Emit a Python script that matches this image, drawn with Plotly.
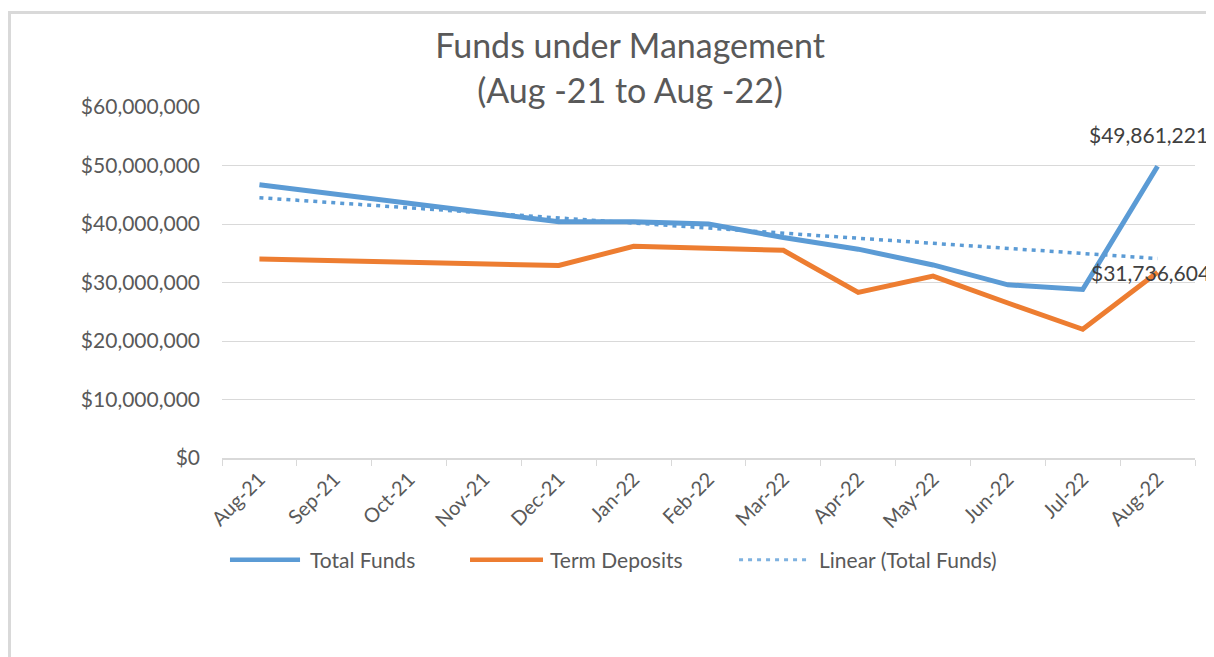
import plotly.graph_objects as go

months = ["Aug-21", "Sep-21", "Oct-21", "Nov-21", "Dec-21", "Jan-22", "Feb-22",
          "Mar-22", "Apr-22", "May-22", "Jun-22", "Jul-22", "Aug-22"]
total_funds = [46700000, None, None, None, 40400000, 40400000, 40000000,
               37700000, 35700000, 33000000, 29600000, 28800000, 49861221]
term_deposits = [34000000, None, None, None, 32900000, 36200000, 35900000,
                 35500000, 28300000, 31100000, 26500000, 22000000, 31736604]
trend_months = ["Aug-21", "Aug-22"]
trend_values = [44500000, 34100000]
y_ticks = [0, 10000000, 20000000, 30000000, 40000000, 50000000, 60000000]
y_tick_text = ["${:,}".format(v) for v in y_ticks]
series_names = ["Total Funds", "Term Deposits", "Linear (Total Funds)"]

BLUE = "#5B9BD5"
ORANGE = "#ED7D31"
TXT = "#595959"
FONT = "Lato, Liberation Sans, sans-serif"
DOT = "4px,5px"

fig = go.Figure()
fig.add_trace(go.Scatter(x=months, y=total_funds, name=series_names[0], mode="lines",
                         connectgaps=True, line=dict(color=BLUE, width=5)))
fig.add_trace(go.Scatter(x=months, y=term_deposits, name=series_names[1], mode="lines",
                         connectgaps=True, line=dict(color=ORANGE, width=5)))
fig.add_trace(go.Scatter(x=trend_months, y=trend_values, name=series_names[2],
                         mode="lines", line=dict(color=BLUE, width=3.5, dash=DOT)))

fig.add_annotation(x=months[-1], y=total_funds[-1], text="${:,.0f}".format(total_funds[-1]),
                   showarrow=False, xshift=-9, yshift=32,
                   font=dict(size=21, color="#404040", family=FONT))
fig.add_annotation(x=months[-1], y=term_deposits[-1], text="${:,.0f}".format(term_deposits[-1]),
                   showarrow=False, xshift=-7, yshift=0,
                   font=dict(size=21, color="#404040", family=FONT))

# chart-area border (Excel style)
fig.add_shape(type="rect", xref="paper", yref="paper", x0=-0.2184, x1=1.1, y0=-0.8, y1=1.2692,
              line=dict(color="#D9D9D9", width=3), fillcolor="rgba(0,0,0,0)", layer="below")

# legend drawn Excel-style (long line samples)
legend_y = -0.2900
legend_items = [
    (series_names[0], 0.0082, 0.0802, 0.0884, dict(color=BLUE, width=4.5)),
    (series_names[1], 0.2549, 0.3299, 0.3350, dict(color=ORANGE, width=4.5)),
    (series_names[2], 0.5314, 0.6012, 0.6115, dict(color="#7FB2E0", width=3, dash=DOT)),
]
for name, lx0, lx1, tx, ln in legend_items:
    fig.add_shape(type="line", xref="paper", yref="paper", x0=lx0, x1=lx1,
                  y0=legend_y, y1=legend_y, line=ln)
    fig.add_annotation(xref="paper", yref="paper", x=tx, y=legend_y, text=name,
                       showarrow=False, xanchor="left", yanchor="middle",
                       font=dict(size=21, color=TXT, family=FONT))

fig.update_layout(
    width=1206, height=649,
    margin=dict(l=214, r=19, t=99, b=199),
    paper_bgcolor="white", plot_bgcolor="white",
    title=dict(text="Funds under Management<br>(Aug -21 to Aug -22)", x=0.5158, xanchor="center",
               y=0.9222, yanchor="middle",
               font=dict(size=34, color=TXT, family=FONT)),
    font=dict(family=FONT, color=TXT),
    showlegend=False,
)
fig.update_xaxes(type="category", categoryorder="array", categoryarray=months,
                 tickangle=-45, tickfont=dict(size=20, color=TXT, family=FONT),
                 showline=True, linecolor="#D9D9D9", linewidth=1.5,
                 ticks="outside", tickson="boundaries", tickcolor="#D9D9D9", ticklen=6,
                 showgrid=False, range=[-0.5, 12.5])
fig.update_yaxes(range=[0, 60000000], tickmode="array", tickvals=y_ticks, ticktext=y_tick_text,
                 tickfont=dict(size=21, color=TXT, family=FONT),
                 showgrid=True, gridcolor="#D9D9D9", gridwidth=1, zeroline=False,
                 showline=False, ticks="", ticklabelstandoff=21)

fig.write_html("out.html")
